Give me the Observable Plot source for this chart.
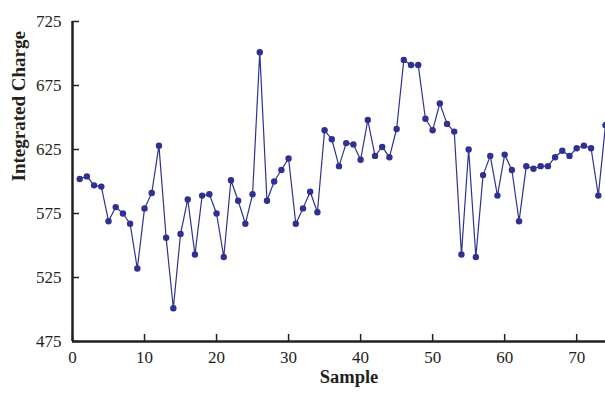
<!DOCTYPE html>
<html>
<head>
<meta charset="utf-8">
<script src="https://cdn.jsdelivr.net/npm/d3@7"></script>
<script src="https://cdn.jsdelivr.net/npm/@observablehq/plot@0.6"></script>
<style>
  html, body { margin: 0; padding: 0; background: #fff; }
  #chart svg { display: block; }
</style>
</head>
<body>
<div id="chart"></div>
<script>
const samples = d3.range(1, 75);
const charge = [
  602, 604, 597, 596, 569, 580, 575, 567, 532, 579,
  591, 628, 556, 501, 559, 586, 543, 589, 590, 575,
  541, 601, 585, 567, 590, 701, 585, 600, 609, 618,
  567, 579, 592, 576, 640, 633, 612, 630, 629, 617,
  648, 620, 627, 619, 641, 695, 691, 691, 649, 640,
  661, 645, 639, 543, 625, 541, 605, 620, 589, 621,
  609, 569, 612, 610, 612, 612, 619, 624, 620, 626,
  628, 626, 589, 644
];
const xTicks = [0, 10, 20, 30, 40, 50, 60, 70];
const yTicks = [475, 525, 575, 625, 675, 725];
const xLabel = "Sample";
const yLabel = "Integrated Charge";

const data = samples.map((s, i) => ({sample: s, charge: charge[i]}));
const ink = "#231f20";
const blue = "#2e3192";

const chart = Plot.plot({
  width: 605,
  height: 393,
  marginLeft: 72,
  marginRight: 0,
  marginTop: 21,
  marginBottom: 52,
  style: {fontFamily: "'Liberation Serif', 'Times New Roman', serif", fontSize: "17px", color: ink, background: "#fff", overflow: "visible"},
  x: {domain: [0, 74], label: null},
  y: {domain: [475, 725], label: null},
  marks: [
    Plot.axisX(xTicks, {tickSize: -7, tickFormat: () => "", stroke: ink, strokeWidth: 1.5, label: null}),
    Plot.axisY(yTicks, {tickSize: -7, tickFormat: () => "", stroke: ink, strokeWidth: 1.5, label: null}),
    Plot.axisX(xTicks, {tickSize: 0, tickPadding: 9, fill: ink, label: null}),
    Plot.axisY(yTicks, {tickSize: 0, tickPadding: 11, fill: ink, label: null}),
    Plot.ruleX([0], {stroke: ink, strokeWidth: 2.5}),
    Plot.ruleY([475], {stroke: ink, strokeWidth: 2.5}),
    Plot.line(data, {x: "sample", y: "charge", stroke: blue, strokeWidth: 1.2}),
    Plot.dot(data, {x: "sample", y: "charge", r: 3.2, fill: blue, stroke: "none"}),
    Plot.text([xLabel], {frameAnchor: "bottom", dy: 41, dx: 10, fontWeight: "bold", fontSize: 18.5, fill: ink, text: d => d}),
    Plot.text([yLabel], {frameAnchor: "left", dx: -54, rotate: -90, fontWeight: "bold", fontSize: 19, fill: ink, text: d => d})
  ]
});
document.getElementById("chart").appendChild(chart);
</script>
</body>
</html>
